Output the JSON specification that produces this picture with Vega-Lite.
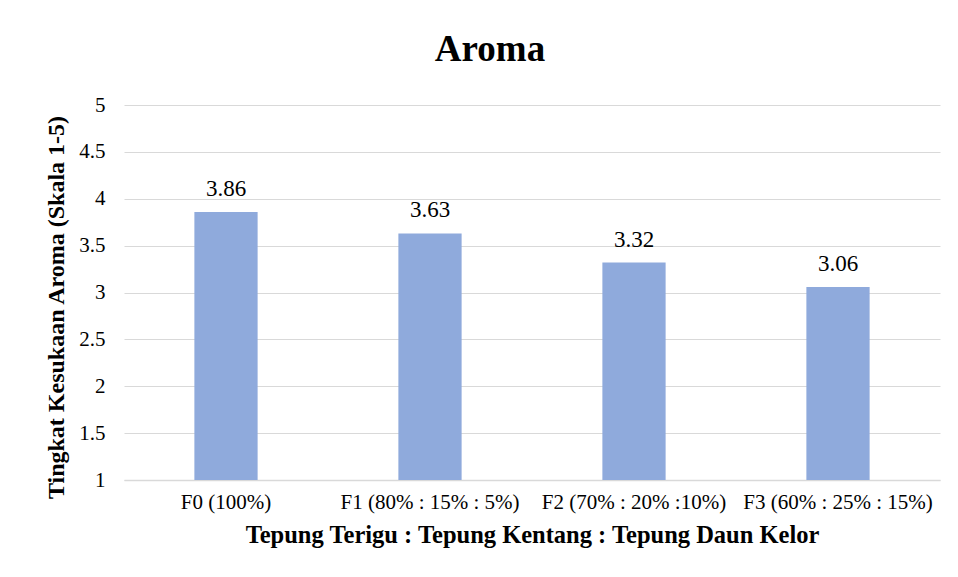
{
  "$schema": "https://vega.github.io/schema/vega-lite/v6.json",
  "width": 816,
  "height": 375,
  "autosize": {"type": "none"},
  "padding": {"left": 124, "top": 105, "right": 18, "bottom": 97},
  "background": "white",
  "config": {
    "view": {"stroke": null},
    "font": "Liberation Serif"
  },
  "title": {
    "text": "Aroma",
    "font": "Liberation Serif",
    "fontSize": 37,
    "fontWeight": "bold",
    "color": "black",
    "anchor": "middle",
    "dx": -42,
    "offset": 25
  },
  "data": {
    "values": [
      {"sample": "F0 (100%)", "score": 3.86},
      {"sample": "F1 (80% : 15% : 5%)", "score": 3.63},
      {"sample": "F2 (70% : 20% :10%)", "score": 3.32},
      {"sample": "F3 (60% : 25% : 15%)", "score": 3.06}
    ]
  },
  "encoding": {
    "x": {
      "field": "sample",
      "type": "nominal",
      "sort": null,
      "scale": {"paddingInner": 0.69, "paddingOuter": 0.345},
      "axis": {
        "title": "Tepung Terigu : Tepung Kentang : Tepung Daun Kelor",
        "titleFont": "Liberation Serif",
        "titleFontSize": 24.5,
        "titleFontWeight": "bold",
        "titleColor": "black",
        "titlePadding": 11,
        "labelAngle": 0,
        "labelFont": "Liberation Serif",
        "labelFontSize": 21,
        "labelColor": "black",
        "labelPadding": 11,
        "labelLimit": 0,
        "labelOverlap": false,
        "ticks": false,
        "domain": true,
        "domainColor": "#D9D9D9",
        "domainWidth": 1.5,
        "grid": false
      }
    },
    "y": {
      "field": "score",
      "type": "quantitative",
      "scale": {"domain": [1, 5], "zero": false, "nice": false},
      "axis": {
        "title": "Tingkat Kesukaan Aroma (Skala 1-5)",
        "titleFont": "Liberation Serif",
        "titleFontSize": 24,
        "titleFontWeight": "bold",
        "titleColor": "black",
        "titlePadding": 10,
        "titleY": 202,
        "values": [1, 1.5, 2, 2.5, 3, 3.5, 4, 4.5, 5],
        "format": "~g",
        "labelFont": "Liberation Serif",
        "labelFontSize": 21,
        "labelColor": "black",
        "labelPadding": 19,
        "ticks": false,
        "domain": false,
        "grid": true,
        "gridColor": "#D9D9D9",
        "gridWidth": 1.2
      }
    }
  },
  "layer": [
    {
      "mark": {"type": "bar", "color": "#8FAADC"},
      "encoding": {"y2": {"datum": 1}}
    },
    {
      "mark": {"type": "text", "dy": -16, "fontSize": 23, "font": "Liberation Serif", "color": "black", "baseline": "alphabetic"},
      "encoding": {"text": {"field": "score", "type": "quantitative", "format": ".2f"}}
    }
  ]
}
